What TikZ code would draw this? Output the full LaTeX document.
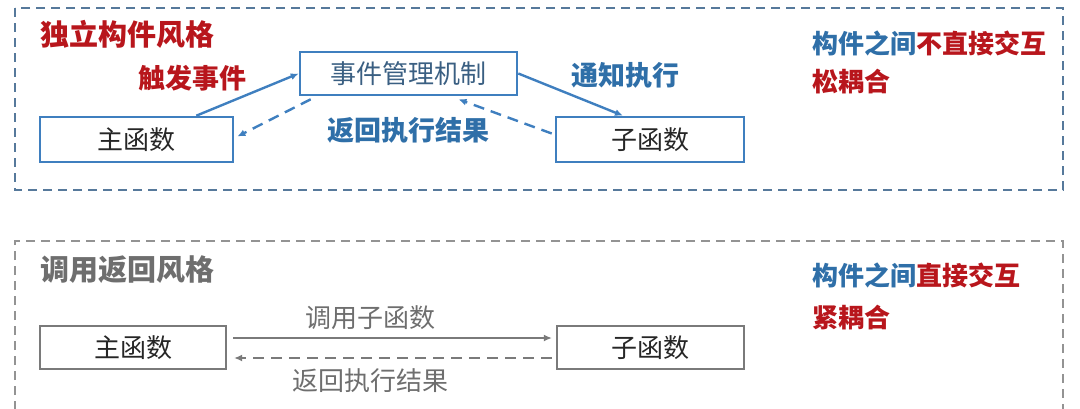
\documentclass[tikz,border=0pt]{standalone}
\usepackage{fontspec}
\setmainfont{Noto Sans CJK SC}
\usetikzlibrary{arrows.meta,positioning,calc}

\definecolor{boxblue}{HTML}{3F7FBF}
\definecolor{txtblue}{HTML}{2F6FA8}
\definecolor{darkred}{HTML}{B8161C}
\definecolor{frameblue}{HTML}{56799B}
\definecolor{framegray}{HTML}{939393}
\definecolor{boxgray}{HTML}{7A7A7A}
\definecolor{txtgray}{HTML}{6E6E6E}
\definecolor{eventtxt}{HTML}{3A5F82}

\begin{document}
\begin{tikzpicture}[x=1pt,y=-1pt,>={Latex[length=8pt,width=7pt]},
  box/.style={draw=boxblue,line width=2.6pt,minimum width=193pt,minimum height=45pt,
    inner sep=0pt,text=black!85,font=\fontsize{26}{28}\selectfont},
  graybox/.style={box,draw=boxgray,line width=2.2pt,minimum height=43pt},
  label/.style={font=\fontsize{27}{29}\selectfont\bfseries},
  heading/.style={anchor=west,font=\fontsize{29}{31}\selectfont\bfseries},
  note/.style={anchor=west,font=\fontsize{26}{28}\selectfont\bfseries},
  link/.style={->,boxblue,line width=2.4pt},
  backlink/.style={link,dash pattern=on 11pt off 7pt},
  graylink/.style={->,boxgray,line width=2.2pt},
  grayback/.style={graylink,dash pattern=on 11pt off 7pt}]
  \useasboundingbox (0,0) rectangle (1080,408);

  % frames
  \draw[frameblue,line width=1.4pt,dash pattern=on 9pt off 6pt] (15,8) rectangle (1063,190);
  \draw[framegray,line width=1.4pt,dash pattern=on 9pt off 6pt] (15,410) -- (15,241) -- (1063,241) -- (1063,410);

  % independent components
  \node[heading,darkred] (titleA) at (37,34) {独立构件风格};
  \node[box,minimum width=217pt,minimum height=43pt,text=eventtxt] (event) at (408.5,73.5) {事件管理机制};
  \node[box] (mainA) at (136.5,139.5) {主函数};
  \node[box,minimum width=188pt] (subA) at (650,139.5) {子函数};
  \node[label,darkred,anchor=west] (trigger) at (135,78) {触发事件};
  \node[label,txtblue,anchor=west] (notify) at (568,75) {通知执行};
  \node[label,txtblue] (retA) at (408,130) {返回执行结果};
  \node[note] (relA) at (809,43) {\textcolor{txtblue}{构件之间}\textcolor{darkred}{不直接交互}};
  \node[note,darkred] (coupA) at (809,82) {松耦合};

  \draw[link] ($(mainA.north east)+(-38,0)$) -- (event.west);
  \draw[backlink] ($(event.south west)+(12,3)$) -- ($(mainA.east)+(3,-3)$);
  \draw[link] (event.east) -- ($(subA.north)+(-27,0)$);
  \draw[backlink] ($(subA.west)+(-3,-6)$) -- ($(event.south)+(50,3)$);

  % call and return
  \node[heading,txtgray] (titleB) at (37,270) {调用返回风格};
  \node[graybox,minimum width=186pt] (mainB) at (133,347.5) {主函数};
  \node[graybox,minimum width=187pt] (subB) at (650.5,347.5) {子函数};
  \node[txtgray,font=\fontsize{26}{28}\selectfont] (call) at (370,318) {调用子函数};
  \node[txtgray,font=\fontsize{26}{28}\selectfont] (retB) at (370,381) {返回执行结果};
  \node[note] (relB) at (809,275) {\textcolor{txtblue}{构件之间}\textcolor{darkred}{直接交互}};
  \node[note,darkred] (coupB) at (809,318) {紧耦合};

  \draw[graylink] ($(mainB.east)+(6,-9.5)$) -- ($(subB.west)+(-4,-9.5)$);
  \draw[grayback] ($(subB.west)+(-4,10.5)$) -- ($(mainB.east)+(7,10.5)$);
\end{tikzpicture}
\end{document}
